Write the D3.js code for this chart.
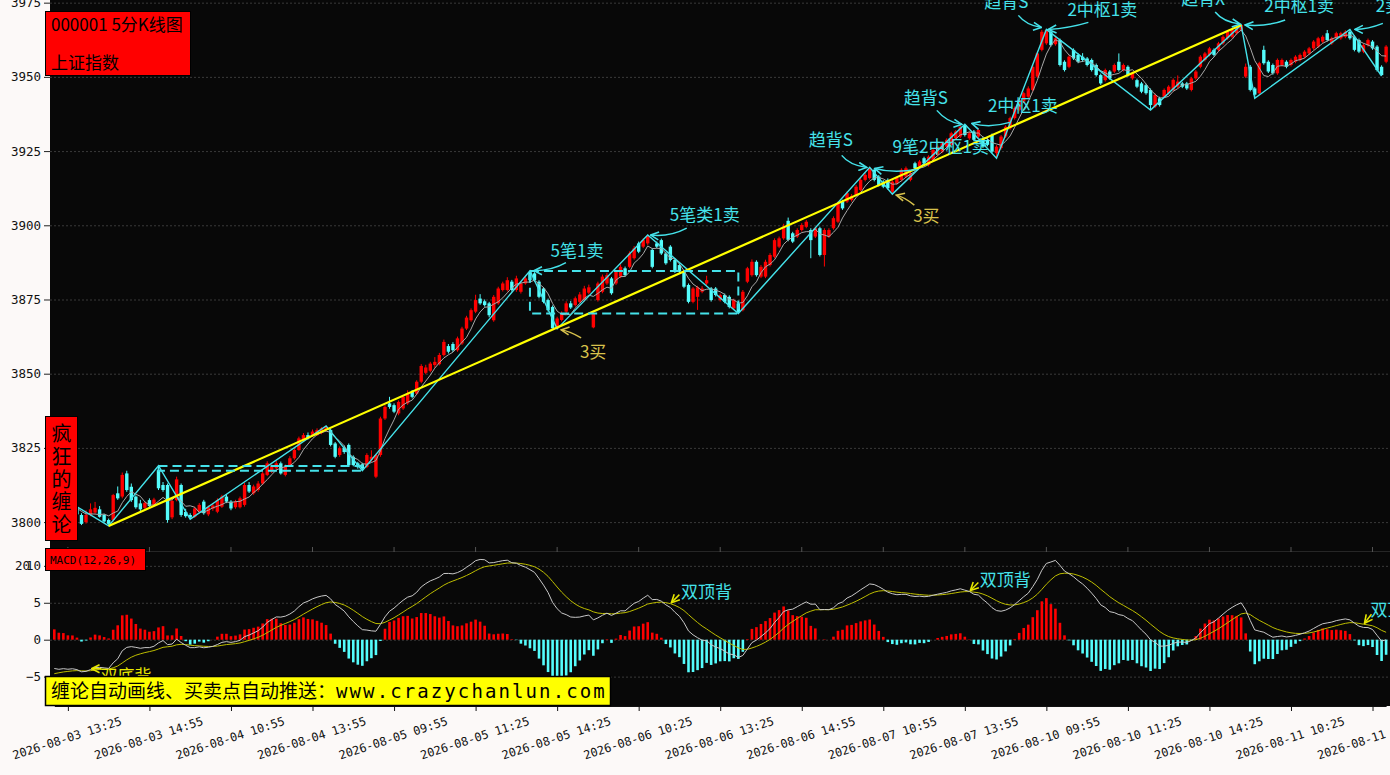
<!DOCTYPE html>
<html>
<head>
<meta charset="utf-8">
<script src="https://cdn.jsdelivr.net/npm/d3@7"></script>
<style>
html, body { margin: 0; padding: 0; background: #fcf9f8; }
svg { display: block; }
</style>
</head>
<body>
<div id="chart"></div>
<script>
// 5 minute bars of 000001, from 2026-08-03 13:10 on
var opens = [
3809.5,3806.0,3804.8,3806.5,3803.8,3805.0,3802.4,3800.0,3802.4,3803.2,
3804.3,3802.4,3800.7,3800.7,3809.7,3808.6,3816.4,3811.9,3808.6,3806.3,
3804.8,3807.4,3805.8,3817.5,3812.5,3812.5,3801.6,3807.4,3812.5,3803.4,
3802.4,3801.8,3803.5,3806.9,3802.6,3804.5,3803.5,3805.2,3808.6,3806.9,
3805.0,3805.0,3805.8,3812.5,3809.7,3810.8,3813.0,3815.9,3817.0,3818.1,
3819.8,3815.9,3819.2,3821.5,3824.3,3827.7,3829.3,3829.3,3829.3,3830.0,
3831.0,3831.0,3826.5,3822.6,3825.0,3826.0,3822.0,3819.8,3819.5,3818.6,
3821.0,3815.3,3822.6,3834.9,3840.0,3839.4,3836.6,3838.3,3840.0,3843.9,
3843.3,3847.3,3850.3,3851.0,3852.9,3853.2,3856.3,3859.3,3860.0,3857.9,
3860.2,3865.2,3868.0,3870.9,3875.3,3874.4,3873.7,3868.0,3873.7,3878.2,
3878.2,3881.0,3878.2,3877.6,3880.4,3884.2,3883.8,3881.0,3878.7,3874.8,
3872.5,3865.9,3868.1,3870.9,3873.7,3873.1,3874.2,3874.8,3877.3,3865.6,
3874.8,3877.6,3880.4,3882.1,3880.4,3882.7,3885.5,3886.0,3888.9,3893.9,
3892.8,3893.9,3891.7,3893.9,3895.0,3890.5,3892.8,3888.3,3886.6,3884.4,
3879.9,3874.2,3875.9,3877.6,3880.4,3878.7,3878.7,3874.8,3876.5,3875.9,
3872.0,3873.7,3871.4,3881.0,3883.2,3887.7,3882.7,3882.7,3886.6,3889.4,
3892.8,3895.6,3901.5,3897.3,3896.2,3898.4,3899.5,3898.4,3896.2,3899.0,
3890.0,3896.2,3899.0,3901.2,3908.0,3908.0,3908.5,3910.2,3911.9,3915.3,
3915.9,3918.7,3916.4,3914.7,3915.3,3911.3,3914.1,3915.3,3916.4,3915.3,
3920.9,3919.8,3922.6,3920.3,3922.0,3923.7,3924.8,3926.5,3927.1,3929.3,
3929.9,3933.8,3929.3,3931.6,3929.9,3929.3,3928.8,3930.4,3924.3,3926.0,
3929.9,3932.7,3936.1,3938.9,3941.7,3943.3,3945.6,3950.1,3959.1,3961.3,
3965.2,3961.0,3962.4,3955.1,3953.4,3959.1,3957.4,3956.8,3956.2,3955.7,
3954.0,3950.6,3948.9,3951.8,3951.8,3955.1,3952.3,3953.4,3949.5,3948.9,
3947.8,3947.2,3945.6,3940.0,3942.8,3943.3,3944.5,3945.6,3946.7,3947.8,
3947.8,3945.6,3949.5,3953.4,3955.7,3957.4,3959.1,3959.1,3961.3,3963.0,
3963.5,3964.7,3965.8,3950.1,3953.4,3946.1,3944.5,3959.1,3955.1,3954.0,
3951.2,3954.0,3955.1,3954.0,3955.1,3955.7,3956.8,3957.9,3959.6,3960.2,
3961.9,3964.7,3961.3,3963.0,3963.0,3963.5,3965.2,3963.5,3962.4,3958.5,
3960.7,3961.9,3960.2,3953.4,3955.1
];
var highs = [
3809.8,3807.0,3807.2,3807.0,3806.0,3805.5,3803.0,3804.0,3806.3,3806.8,
3805.4,3802.8,3801.2,3809.5,3812.0,3816.7,3817.3,3813.0,3809.0,3807.5,
3807.0,3808.0,3808.2,3819.0,3813.5,3813.0,3808.0,3815.3,3813.0,3804.5,
3803.0,3805.2,3806.4,3807.5,3805.6,3806.4,3808.0,3809.2,3809.4,3807.4,
3807.5,3808.6,3813.2,3813.5,3812.6,3813.8,3817.0,3820.5,3819.5,3820.6,
3820.4,3819.4,3822.2,3825.0,3828.8,3830.0,3830.2,3831.2,3831.6,3832.0,
3832.4,3831.5,3827.0,3825.5,3825.8,3826.5,3822.5,3820.3,3820.0,3823.2,
3824.2,3823.0,3835.5,3839.4,3842.2,3840.0,3841.0,3842.8,3844.4,3844.5,
3847.8,3853.2,3853.0,3854.0,3855.6,3857.0,3861.5,3860.0,3860.6,3862.5,
3865.8,3869.5,3872.0,3876.6,3876.8,3875.0,3874.2,3876.5,3879.3,3881.0,
3882.5,3881.6,3883.0,3881.0,3883.0,3884.7,3884.2,3881.5,3879.2,3875.3,
3873.0,3869.2,3871.0,3874.4,3874.5,3876.0,3877.5,3879.6,3880.0,3871.0,
3881.0,3883.4,3884.0,3882.6,3885.0,3886.8,3886.1,3891.2,3893.0,3894.5,
3895.6,3896.7,3892.2,3894.5,3895.5,3891.0,3893.3,3888.8,3887.1,3884.9,
3880.4,3879.2,3879.6,3879.5,3883.0,3879.2,3879.2,3877.0,3877.0,3876.4,
3875.3,3874.2,3878.2,3886.0,3888.5,3888.2,3886.6,3888.4,3890.6,3895.6,
3896.2,3900.5,3902.6,3897.8,3899.0,3900.7,3901.8,3899.0,3899.5,3899.5,
3899.0,3899.0,3903.0,3908.0,3908.6,3911.4,3910.5,3913.6,3915.9,3917.6,
3919.5,3919.2,3916.9,3915.2,3915.8,3915.2,3916.4,3919.2,3919.8,3918.0,
3921.4,3922.0,3923.1,3923.6,3925.9,3927.0,3928.1,3929.3,3931.5,3932.1,
3933.7,3934.0,3931.5,3932.1,3932.6,3929.8,3929.3,3930.9,3927.0,3930.4,
3933.7,3936.6,3940.0,3942.8,3945.0,3946.8,3954.0,3958.5,3965.8,3966.0,
3965.7,3963.5,3962.9,3955.6,3957.3,3959.6,3957.9,3958.0,3956.7,3956.2,
3954.5,3951.1,3952.8,3952.3,3954.5,3957.9,3954.5,3953.9,3951.7,3949.4,
3948.3,3947.7,3946.1,3944.4,3943.3,3946.1,3947.2,3949.5,3950.5,3948.3,
3948.3,3950.0,3952.3,3957.3,3958.4,3960.1,3959.6,3961.8,3964.0,3965.7,
3966.3,3967.2,3967.5,3954.5,3954.0,3946.6,3955.1,3960.5,3955.6,3954.5,
3956.2,3956.2,3955.6,3956.2,3957.3,3957.9,3959.0,3960.1,3962.4,3963.5,
3964.0,3965.8,3963.5,3965.2,3965.2,3965.7,3966.0,3964.0,3962.9,3961.2,
3962.9,3962.4,3960.7,3953.9,3960.7
];
var lows = [
3805.5,3804.0,3804.2,3803.5,3803.0,3802.0,3799.0,3799.5,3802.0,3802.8,
3801.5,3799.8,3798.7,3800.2,3807.5,3808.0,3810.2,3806.8,3804.5,3803.6,
3804.2,3805.0,3805.4,3810.8,3810.2,3799.8,3801.0,3807.0,3801.8,3801.5,
3801.0,3801.4,3803.0,3802.5,3802.0,3803.8,3803.0,3804.8,3806.4,3804.0,
3804.5,3804.6,3805.2,3809.8,3809.2,3810.2,3812.5,3815.5,3816.5,3817.6,
3816.0,3815.4,3818.8,3821.0,3824.0,3827.2,3827.8,3828.8,3829.0,3829.6,
3830.5,3825.5,3821.5,3822.0,3823.0,3818.7,3818.8,3818.0,3817.3,3818.2,
3820.3,3814.8,3822.0,3834.4,3838.2,3836.7,3836.0,3837.8,3839.5,3841.7,
3842.8,3846.8,3849.8,3850.5,3852.0,3852.8,3855.8,3856.8,3857.3,3857.4,
3859.7,3864.7,3867.5,3870.4,3873.2,3872.6,3869.0,3867.5,3873.2,3877.7,
3877.7,3877.7,3877.6,3877.0,3880.0,3881.0,3881.0,3875.4,3873.7,3870.9,
3865.2,3865.1,3867.6,3870.4,3871.8,3872.6,3873.7,3874.3,3876.8,3865.3,
3874.3,3877.1,3879.9,3876.6,3879.9,3882.2,3882.7,3885.5,3888.4,3890.6,
3892.3,3893.4,3885.5,3892.3,3890.0,3886.7,3887.8,3883.9,3883.9,3878.8,
3873.7,3873.7,3871.5,3877.1,3879.9,3874.3,3876.0,3874.3,3873.7,3872.0,
3871.5,3870.3,3871.0,3880.5,3882.7,3882.7,3882.2,3882.2,3886.1,3888.9,
3892.3,3895.1,3894.6,3894.0,3895.7,3897.9,3899.0,3888.9,3895.7,3889.5,
3886.1,3895.7,3898.5,3900.7,3905.2,3907.5,3908.0,3909.7,3911.4,3914.8,
3915.4,3914.8,3913.1,3912.5,3912.0,3910.5,3913.6,3914.8,3915.9,3914.8,
3918.7,3919.3,3920.4,3919.8,3921.5,3923.2,3924.3,3926.0,3926.6,3928.8,
3929.4,3929.9,3928.8,3928.3,3929.4,3926.0,3926.6,3924.3,3922.6,3925.5,
3929.4,3932.2,3935.6,3938.4,3941.2,3942.8,3945.1,3949.6,3958.6,3960.8,
3960.2,3960.5,3953.5,3951.8,3952.9,3955.7,3954.6,3955.0,3953.5,3951.8,
3950.1,3947.3,3948.4,3949.0,3951.3,3951.8,3951.8,3950.1,3949.0,3946.2,
3944.5,3944.0,3938.8,3939.5,3940.0,3942.8,3944.0,3945.1,3946.2,3946.2,
3945.6,3945.1,3949.0,3952.9,3955.2,3956.9,3956.9,3958.6,3960.8,3962.5,
3963.0,3964.2,3965.3,3949.6,3945.1,3942.8,3944.0,3954.1,3951.3,3950.7,
3950.7,3953.5,3952.9,3953.5,3954.6,3955.2,3956.3,3957.4,3959.1,3959.7,
3961.4,3961.9,3960.8,3962.5,3962.5,3963.0,3962.5,3958.6,3958.0,3958.0,
3960.2,3959.1,3951.8,3950.3,3954.6
];
var closes = [
3806.0,3805.0,3806.6,3804.2,3805.2,3802.6,3799.4,3802.4,3804.3,3804.8,
3801.8,3800.2,3799.4,3809.1,3808.0,3815.9,3810.8,3807.4,3805.0,3804.3,
3806.5,3805.4,3807.6,3811.4,3810.8,3800.7,3807.1,3814.4,3802.4,3802.0,
3801.6,3804.6,3805.8,3803.0,3805.0,3805.6,3807.4,3808.6,3806.9,3804.6,
3806.9,3808.0,3812.5,3810.3,3812.0,3813.0,3816.4,3819.8,3818.7,3819.8,
3816.4,3818.7,3821.5,3824.3,3828.2,3829.3,3828.2,3830.5,3831.0,3831.6,
3832.0,3826.0,3822.0,3824.9,3823.6,3819.2,3819.2,3818.5,3818.0,3822.6,
3822.0,3822.6,3834.9,3838.8,3838.8,3837.2,3840.5,3842.2,3843.3,3842.2,
3847.3,3852.6,3852.1,3853.4,3854.0,3856.3,3860.7,3857.4,3857.9,3861.9,
3865.2,3868.9,3871.4,3874.8,3873.7,3873.1,3869.7,3875.9,3878.7,3880.4,
3881.5,3878.2,3882.1,3880.4,3882.1,3881.5,3881.5,3875.9,3874.2,3871.4,
3865.3,3868.6,3870.3,3873.7,3872.3,3875.4,3876.7,3878.7,3879.1,3870.3,
3880.4,3882.7,3883.2,3877.1,3884.4,3886.0,3883.2,3890.5,3892.2,3891.1,
3895.0,3896.4,3886.0,3892.8,3890.5,3887.2,3888.3,3884.4,3884.4,3879.3,
3874.2,3878.7,3879.1,3878.7,3881.5,3874.8,3876.5,3876.5,3874.2,3872.5,
3874.8,3870.8,3877.6,3885.5,3887.7,3883.2,3886.0,3887.7,3890.0,3895.0,
3895.6,3899.6,3895.1,3894.5,3898.4,3900.1,3901.2,3895.0,3899.0,3890.0,
3898.4,3898.4,3902.4,3907.4,3905.7,3910.8,3909.9,3913.0,3915.3,3917.0,
3919.2,3915.3,3913.6,3913.0,3912.5,3914.7,3915.9,3918.7,3919.2,3917.5,
3919.2,3921.5,3920.9,3923.1,3925.4,3926.5,3927.6,3928.8,3931.0,3931.6,
3933.2,3930.4,3931.0,3928.8,3932.1,3926.5,3927.1,3924.8,3926.5,3929.9,
3933.2,3936.1,3939.4,3942.2,3944.5,3946.1,3953.4,3957.9,3965.2,3965.8,
3960.7,3963.0,3954.0,3952.3,3956.8,3956.2,3955.1,3955.7,3954.0,3952.3,
3950.6,3947.8,3952.3,3949.5,3954.0,3952.3,3954.0,3950.6,3951.2,3946.7,
3945.0,3944.5,3940.5,3943.9,3940.5,3945.6,3946.7,3949.0,3948.4,3946.7,
3946.1,3949.5,3951.8,3956.8,3957.9,3959.6,3957.4,3961.3,3963.5,3965.2,
3965.8,3966.9,3967.5,3953.4,3945.6,3944.0,3954.6,3954.6,3951.8,3951.2,
3955.7,3955.7,3953.4,3955.7,3956.8,3957.4,3958.5,3959.6,3961.9,3963.0,
3963.5,3962.4,3963.0,3964.7,3964.7,3965.2,3963.0,3959.1,3958.5,3960.7,
3962.4,3959.6,3952.3,3950.6,3960.2
];

// strokes (bi): bar index and price of each turning point
var biIndex = [0, 12, 23, 30, 60, 68, 105, 111, 131, 151, 180, 185, 201, 208, 219, 242, 262, 265, 286, 293];
var biPrice = [3809.8, 3798.7, 3819.0, 3801.0, 3832.4, 3817.3, 3884.7, 3865.1, 3896.7, 3870.3,
               3919.5, 3910.5, 3934.0, 3922.6, 3966.0, 3938.8, 3967.5, 3942.8, 3966.0, 3950.3];
// segment (yellow)
var segIndex = [12, 262];
var segPrice = [3798.7, 3967.5];
// pivots (zhongshu)
var pivotStart = [23, 105];
var pivotEnd = [68, 151];
var pivotHigh = [3818.9, 3884.6];
var pivotLow = [3817.3, 3870.3];
// buy / sell signals
var signalText = ['5笔1卖', '3买', '5笔类1卖', '趋背S', '9笔2中枢1卖', '3买', '趋背S', '2中枢1卖',
                  '趋背S', '2中枢1卖', '趋背X', '2中枢1卖', '2卖'];
var signalBar = [105, 111, 131, 180, 180, 185, 201, 201, 219, 219, 262, 262, 286];
var signalBuy = [false, true, false, false, false, true, false, false, false, false, false, false, false];
// macd divergence signals
var macdSignalText = ['双底背', '双顶背', '双顶背', '双顶背'];
var macdSignalBar = [8, 136, 202, 289];

var tickLabels = ['2026-08-03 13:25', '2026-08-03 14:55', '2026-08-04 10:55', '2026-08-04 13:55',
    '2026-08-05 09:55', '2026-08-05 11:25', '2026-08-05 14:25', '2026-08-06 10:25',
    '2026-08-06 13:25', '2026-08-06 14:55', '2026-08-07 10:55', '2026-08-07 13:55',
    '2026-08-10 09:55', '2026-08-10 11:25', '2026-08-10 14:25', '2026-08-11 10:25',
    '2026-08-11 13:25'];
var priceTicks = [3800, 3825, 3850, 3875, 3900, 3925, 3950, 3975];
var macdTicks = [-5, 0, 5, 10];

const WIDTH = 1390;
const HEIGHT = 775;
const PLOT_LEFT = 50;
const PLOT_RIGHT = 1390;
const MAIN_BOTTOM = 550;
const MACD_TOP = 553;
const MACD_BOTTOM = 706;
const BAR_STEP = 4.53;
const RED = '#ff0000';
const CYAN = '#54fcfc';
const LINE_CYAN = '#45e2ea';
const AXIS_FONT = "'DejaVu Sans Mono', monospace";
const CJK_FONT = "'Noto Sans CJK SC', sans-serif";

const N = closes.length;
const tickIndex = tickLabels.map((d, k) => 3 + k * 18);

const x = d3.scaleLinear().domain([0, N - 1]).range([54.3, 54.3 + (N - 1) * BAR_STEP]);
const y = d3.scaleLinear().domain([3790.6, 3975.9]).range([MAIN_BOTTOM, 0]);
const ym = d3.scaleLinear().domain([-8.98, 11.74]).range([MACD_BOTTOM, MACD_TOP]);

// MACD(12,26,9); history before the first bar is not shown, so the
// start values of DIF and DEA are read off the picture
const DIF_START = -3.9, DEA_START = -4.6, EMA26_GAP = 7.9;
var ema12 = closes[0] + EMA26_GAP + DIF_START, ema26 = closes[0] + EMA26_GAP;
var dif = [], dea = [], hist = [];
closes.forEach((c, i) => {
    if (i > 0) {
        ema12 = ema12 * 11 / 13 + c * 2 / 13;
        ema26 = ema26 * 25 / 27 + c * 2 / 27;
    }
    const d = ema12 - ema26;
    const e = i === 0 ? DEA_START : dea[i - 1] * 8 / 10 + d * 2 / 10;
    dif.push(d);
    dea.push(e);
    hist.push(2 * (d - e));
});
// 5 bar moving average
var ma5 = closes.map((c, i) => i < 4 ? null : d3.mean(closes.slice(i - 4, i + 1)));

const svg = d3.select('#chart')
    .append('svg')
    .attr('width', WIDTH)
    .attr('height', HEIGHT);

svg.append('rect').attr('width', WIDTH).attr('height', HEIGHT).attr('fill', '#fcf9f8');
svg.append('rect')
    .attr('x', PLOT_LEFT).attr('y', 0)
    .attr('width', PLOT_RIGHT - PLOT_LEFT).attr('height', MACD_BOTTOM)
    .attr('fill', '#080808');

const defs = svg.append('defs');
defs.append('clipPath').attr('id', 'clipMain').append('rect')
    .attr('x', PLOT_LEFT).attr('y', 0).attr('width', PLOT_RIGHT - PLOT_LEFT).attr('height', MAIN_BOTTOM);
defs.append('clipPath').attr('id', 'clipMacd').append('rect')
    .attr('x', PLOT_LEFT).attr('y', MACD_TOP).attr('width', PLOT_RIGHT - PLOT_LEFT).attr('height', MACD_BOTTOM - MACD_TOP);

function arrowMarker(id, color) {
    defs.append('marker')
        .attr('id', id)
        .attr('viewBox', '0 0 10 10')
        .attr('refX', 9).attr('refY', 5)
        .attr('markerWidth', 10).attr('markerHeight', 10)
        .attr('markerUnits', 'userSpaceOnUse')
        .attr('orient', 'auto')
        .append('path')
        .attr('d', 'M1,1 L9,5 L1,9')
        .attr('fill', 'none')
        .attr('stroke', color)
        .attr('stroke-width', 1.6);
}
arrowMarker('arrowCyan', LINE_CYAN);
arrowMarker('arrowGold', '#d8c24c');
arrowMarker('arrowYellow', '#e6e600');

// grid lines
svg.append('g').selectAll('line')
    .data(priceTicks)
    .enter()
    .append('line')
    .attr('x1', PLOT_LEFT).attr('x2', PLOT_RIGHT)
    .attr('y1', d => y(d) + 0.5).attr('y2', d => y(d) + 0.5)
    .attr('stroke', '#3a3a3a')
    .attr('stroke-dasharray', '2,2');
svg.append('g').selectAll('line')
    .data(macdTicks)
    .enter()
    .append('line')
    .attr('x1', PLOT_LEFT).attr('x2', PLOT_RIGHT)
    .attr('y1', d => ym(d) + 0.5).attr('y2', d => ym(d) + 0.5)
    .attr('stroke', '#3a3a3a')
    .attr('stroke-dasharray', '2,2');

// main chart
const main = svg.append('g').attr('clip-path', 'url(#clipMain)');
const barColor = i => closes[i] >= opens[i] ? RED : CYAN;

const candles = main.append('g').selectAll('g')
    .data(d3.range(N))
    .enter()
    .append('g');
candles.append('line')
    .attr('x1', i => x(i)).attr('x2', i => x(i))
    .attr('y1', i => y(highs[i])).attr('y2', i => y(lows[i]))
    .attr('stroke', barColor)
    .attr('stroke-width', 1);
candles.append('rect')
    .attr('x', i => x(i) - 1.7)
    .attr('width', 3.4)
    .attr('y', i => y(Math.max(opens[i], closes[i])))
    .attr('height', i => Math.max(1, Math.abs(y(opens[i]) - y(closes[i]))))
    .attr('fill', barColor);

main.append('path')
    .datum(d3.range(N).filter(i => ma5[i] !== null))
    .attr('d', d3.line().x(i => x(i)).y(i => y(ma5[i])))
    .attr('fill', 'none')
    .attr('stroke', '#a8a8a8')
    .attr('stroke-width', 1);

main.append('path')
    .datum(d3.range(biIndex.length))
    .attr('d', d3.line().x(k => x(biIndex[k])).y(k => y(biPrice[k])))
    .attr('fill', 'none')
    .attr('stroke', LINE_CYAN)
    .attr('stroke-width', 1.4);

main.append('path')
    .datum(d3.range(segIndex.length))
    .attr('d', d3.line().x(k => x(segIndex[k])).y(k => y(segPrice[k])))
    .attr('fill', 'none')
    .attr('stroke', '#ffff00')
    .attr('stroke-width', 2.2);

main.append('g').selectAll('rect')
    .data(d3.range(pivotStart.length))
    .enter()
    .append('rect')
    .attr('x', k => x(pivotStart[k]))
    .attr('y', k => y(pivotHigh[k]))
    .attr('width', k => x(pivotEnd[k]) - x(pivotStart[k]))
    .attr('height', k => y(pivotLow[k]) - y(pivotHigh[k]))
    .attr('fill', 'none')
    .attr('stroke', LINE_CYAN)
    .attr('stroke-width', 2)
    .attr('stroke-dasharray', '9,5');

// signal labels: text centre / baseline and arrow start, control, end, in pixels from the turning point
var signalLayout = [
    [47, -14, 36, -8, 22, 0, 4, 0],
    [36, 29, 24, 9, 12, 2, 4, 1],
    [57, -14, 39, -7, 22, 2, 3, 0],
    [-39, -21, -28, -12, -20, -2, -3, 0],
    [71, -14, 47, 2, 23, 6, 5, 1],
    [34, 28, 22, 11, 12, 3, 4, 1],
    [-39, -20, -28, -14, -18, -2, -3, 0],
    [58, -12, 45, -2, 25, 4, 7, -1],
    [-40, -21, -28, -14, -20, -4, -5, -2],
    [56, -13, 42, -7, 22, -1, 2, 0],
    [-38, -20, -26, -13, -18, -3, -1, -1],
    [58, -13, 44, -5, 26, 2, 4, 0],
    [39, -17, 33, -6, 18, 0, 5, 0]
];
const signals = svg.append('g').selectAll('g')
    .data(d3.range(signalText.length))
    .enter()
    .append('g')
    .attr('transform', k => {
        const b = signalBar[k];
        return 'translate(' + x(b) + ',' + y(biPrice[biIndex.indexOf(b)]) + ')';
    });
signals.append('path')
    .attr('d', k => {
        const p = signalLayout[k];
        return 'M' + p[2] + ',' + p[3] + ' Q' + p[4] + ',' + p[5] + ' ' + p[6] + ',' + p[7];
    })
    .attr('fill', 'none')
    .attr('stroke', k => signalBuy[k] ? '#d8c24c' : LINE_CYAN)
    .attr('stroke-width', 1.5)
    .attr('marker-end', k => signalBuy[k] ? 'url(#arrowGold)' : 'url(#arrowCyan)');
signals.append('text')
    .text(k => signalText[k])
    .attr('x', k => signalLayout[k][0])
    .attr('y', k => signalLayout[k][1])
    .attr('text-anchor', 'middle')
    .attr('font-family', CJK_FONT)
    .attr('font-size', 17)
    .attr('fill', k => signalBuy[k] ? '#d8c24c' : LINE_CYAN);

// separation axis under the main chart
svg.append('line')
    .attr('x1', PLOT_LEFT).attr('x2', PLOT_RIGHT)
    .attr('y1', MAIN_BOTTOM + 1.5).attr('y2', MAIN_BOTTOM + 1.5)
    .attr('stroke', '#262626');
svg.append('g').selectAll('line')
    .data(tickIndex)
    .enter()
    .append('line')
    .attr('x1', d => x(d)).attr('x2', d => x(d))
    .attr('y1', MAIN_BOTTOM - 3).attr('y2', MAIN_BOTTOM + 2)
    .attr('stroke', '#555');

// MACD panel
const macd = svg.append('g').attr('clip-path', 'url(#clipMacd)');
macd.append('g').selectAll('rect')
    .data(d3.range(N))
    .enter()
    .append('rect')
    .attr('x', i => x(i) - 1.3)
    .attr('width', 2.6)
    .attr('y', i => ym(Math.max(0, hist[i])))
    .attr('height', i => Math.abs(ym(hist[i]) - ym(0)))
    .attr('fill', i => hist[i] >= 0 ? RED : CYAN);
macd.append('path')
    .datum(d3.range(N))
    .attr('d', d3.line().x(i => x(i)).y(i => ym(dea[i])))
    .attr('fill', 'none')
    .attr('stroke', '#bdbd00')
    .attr('stroke-width', 1);
macd.append('path')
    .datum(d3.range(N))
    .attr('d', d3.line().x(i => x(i)).y(i => ym(dif[i])))
    .attr('fill', 'none')
    .attr('stroke', '#c8c8c8')
    .attr('stroke-width', 1);

// divergence labels: text x / baseline and arrow start, end, in pixels from the DEA point
var macdLayout = [
    [10, 11, 11, -2, 1, -2, 'start', '#e6e600'],
    [36, -6, 9, -9, 1, -1, 'middle', LINE_CYAN],
    [36, -6, 9, -9, 1, -1, 'middle', LINE_CYAN],
    [7, -8, 8, -10, 1, -1, 'start', LINE_CYAN]
];
const macdSignals = svg.append('g').selectAll('g')
    .data(d3.range(macdSignalText.length))
    .enter()
    .append('g')
    .attr('transform', k => 'translate(' + x(macdSignalBar[k]) + ',' + ym(dea[macdSignalBar[k]]) + ')');
macdSignals.append('path')
    .attr('d', k => {
        const p = macdLayout[k];
        return 'M' + p[2] + ',' + p[3] + ' L' + p[4] + ',' + p[5];
    })
    .attr('stroke', '#e6e600')
    .attr('stroke-width', 1.5)
    .attr('marker-end', 'url(#arrowYellow)');
macdSignals.append('text')
    .text(k => macdSignalText[k])
    .attr('x', k => macdLayout[k][0])
    .attr('y', k => macdLayout[k][1])
    .attr('text-anchor', k => macdLayout[k][6])
    .attr('font-family', CJK_FONT)
    .attr('font-size', 17)
    .attr('fill', k => macdLayout[k][7]);

// axes
const yAxis = svg.append('g')
    .attr('transform', 'translate(' + PLOT_LEFT + ',0)')
    .call(d3.axisLeft(y).tickValues(priceTicks).tickFormat(d3.format('d'))
        .tickSize(6).tickSizeOuter(0).tickPadding(3));
const mAxis = svg.append('g')
    .attr('transform', 'translate(' + PLOT_LEFT + ',0)')
    .call(d3.axisLeft(ym).tickValues(macdTicks).tickFormat(d3.format('d'))
        .tickSize(6).tickSizeOuter(0).tickPadding(3));
[yAxis, mAxis].forEach(g => {
    g.select('.domain').remove();
    g.selectAll('text').attr('font-family', AXIS_FONT).attr('font-size', 12.5).attr('fill', '#111');
    g.selectAll('line').attr('stroke', '#222');
});
svg.append('text')
    .text('20')
    .attr('x', 30).attr('y', ym(10))
    .attr('dy', '0.32em')
    .attr('text-anchor', 'end')
    .attr('font-family', AXIS_FONT)
    .attr('font-size', 12.5)
    .attr('fill', '#111');

const xAxis = svg.append('g')
    .attr('transform', 'translate(0,' + MACD_BOTTOM + ')')
    .call(d3.axisBottom(x).tickValues(tickIndex).tickSize(5).tickSizeOuter(0)
        .tickFormat((d, k) => tickLabels[k]));
xAxis.select('.domain').attr('stroke', '#111');
xAxis.selectAll('line').attr('stroke', '#111');
xAxis.selectAll('text')
    .attr('x', 0).attr('y', 0).attr('dy', 0)
    .attr('text-anchor', 'middle')
    .attr('transform', 'translate(0,36) rotate(-18)')
    .attr('font-family', AXIS_FONT)
    .attr('font-size', 11.8)
    .attr('fill', '#111');

// title box
svg.append('rect')
    .attr('x', 45.5).attr('y', 11.5).attr('width', 145).attr('height', 64)
    .attr('fill', '#ff0000').attr('stroke', '#000');
svg.append('text')
    .text('000001 5分K线图')
    .attr('x', 51).attr('y', 31)
    .attr('font-family', CJK_FONT).attr('font-size', 17).attr('fill', '#000');
svg.append('text')
    .text('上证指数')
    .attr('x', 51).attr('y', 69)
    .attr('font-family', CJK_FONT).attr('font-size', 17).attr('fill', '#000');

// vertical name box
svg.append('rect')
    .attr('x', 45.5).attr('y', 416.5).attr('width', 32).attr('height', 124)
    .attr('fill', '#ff0000').attr('stroke', '#000');
svg.append('g').selectAll('text')
    .data(['疯', '狂', '的', '缠', '论'])
    .enter()
    .append('text')
    .text(d => d)
    .attr('x', 61.5)
    .attr('y', (d, i) => 441 + i * 22.8)
    .attr('text-anchor', 'middle')
    .attr('font-family', CJK_FONT)
    .attr('font-size', 20)
    .attr('fill', '#000');

// MACD title
svg.append('rect')
    .attr('x', 45.5).attr('y', 548.5).attr('width', 100).attr('height', 22)
    .attr('fill', '#ff0000').attr('stroke', '#000');
svg.append('text')
    .text('MACD(12,26,9)')
    .attr('x', 50).attr('y', 564)
    .attr('font-family', AXIS_FONT).attr('font-size', 11).attr('fill', '#000');

// banner
svg.append('rect')
    .attr('x', 45.5).attr('y', 676.5).attr('width', 565).attr('height', 29)
    .attr('fill', '#ffff00').attr('stroke', '#000').attr('stroke-width', 1.5);
const banner = svg.append('text')
    .attr('x', 51).attr('y', 698)
    .attr('fill', '#000');
banner.append('tspan')
    .text('缠论自动画线、买卖点自动推送：')
    .attr('font-family', CJK_FONT).attr('font-size', 19);
banner.append('tspan')
    .text('www.crazychanlun.com')
    .attr('font-family', AXIS_FONT).attr('font-size', 19)
    .attr('letter-spacing', 2.1);
</script>
</body>
</html>
